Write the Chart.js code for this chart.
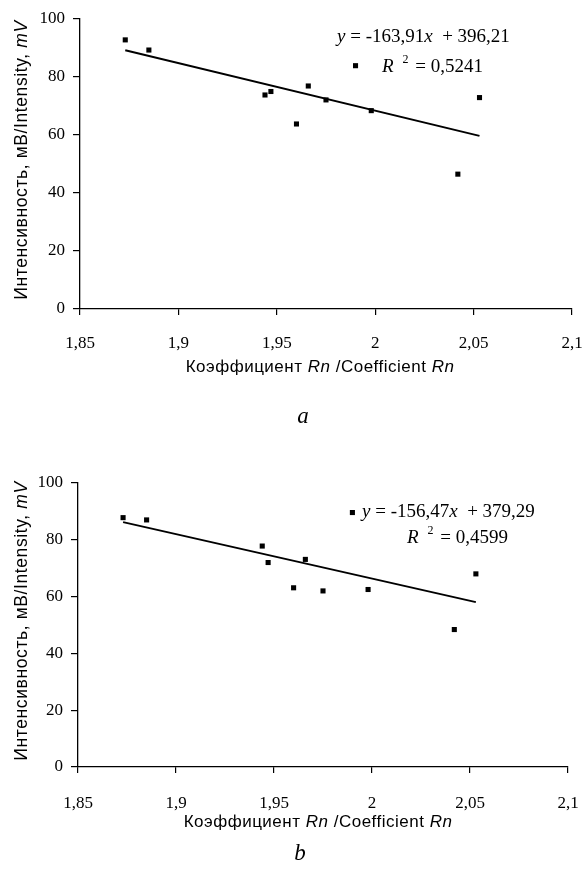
<!DOCTYPE html>
<html>
<head>
<meta charset="utf-8">
<script src="https://cdn.jsdelivr.net/npm/chart.js@4.4.0/dist/chart.umd.min.js"></script>
<style>
  html, body { margin: 0; padding: 0; background: #fff; }
  body { width: 583px; height: 870px; position: relative; overflow: hidden; }
  .panel { position: absolute; left: 0; width: 583px; }
</style>
</head>
<body>
<div class="panel" style="top:0;height:430px"><canvas id="chartA" width="583" height="430"></canvas></div>
<div class="panel" style="top:430px;height:440px"><canvas id="chartB" width="583" height="440"></canvas></div>
<script>
// Coefficient Rn of each sample (shared by both panels)
const rnCoefficient = [1.873, 1.885, 1.944, 1.947, 1.966, 1.960, 1.975, 1.990, 1.998, 2.053, 2.042];
// Measured intensity, mV
const intensityA = [92.8, 89.3, 73.8, 75.0, 76.9, 63.8, 72.1, 83.9, 68.4, 72.9, 46.5];
const intensityB = [87.8, 87.0, 77.8, 72.0, 73.1, 63.1, 62.0, 89.6, 62.5, 68.0, 48.4];
// Linear trend lines y = slope * x + intercept
const trendSlopes = [-163.91, -156.47];
const trendIntercepts = [396.21, 379.29];
const rSquared = ['0,5241', '0,4599'];
// Axis ticks
const xTickValues = [1.85, 1.9, 1.95, 2, 2.05, 2.1];
const yTickValues = [0, 20, 40, 60, 80, 100];
const panelLetters = ['a', 'b'];

const SANS = "'Liberation Sans', Arial, sans-serif";
const SERIF = "'Liberation Serif', 'Times New Roman', serif";

const comma = v => String(v).replace('.', ',');
const fixed2 = v => v.toFixed(2).replace('.', ',');

// Draw a run of text pieces with individual fonts; align: 'left' | 'center'
function drawRich(ctx, parts, x, y, align, spacing) {
  ctx.save();
  ctx.textBaseline = 'middle';
  ctx.fillStyle = '#000';
  if (spacing) ctx.letterSpacing = spacing + 'px';
  let total = 0;
  parts.forEach(p => { ctx.font = p.font; total += ctx.measureText(p.t).width + (p.dx || 0); });
  let cx = align === 'center' ? x - total / 2 : x;
  parts.forEach(p => {
    ctx.font = p.font;
    ctx.textAlign = 'left';
    cx += p.dx || 0;
    ctx.fillText(p.t, cx, y + (p.dy || 0));
    cx += ctx.measureText(p.t).width;
  });
  ctx.restore();
}

function makePanel(canvasId, idx, values, geom) {
  const slope = trendSlopes[idx];
  const intercept = trendIntercepts[idx];
  const xMin = Math.min(...rnCoefficient);
  const xMax = Math.max(...rnCoefficient);
  const trendPoints = [xMin, xMax].map(x => ({ x, y: slope * x + intercept }));

  const annotations = {
    id: 'panelText' + idx,
    afterDraw(chart) {
      const ctx = chart.ctx;
      const area = chart.chartArea;
      // y-axis title, rotated
      ctx.save();
      ctx.translate(geom.yTitleX, (area.top + area.bottom) / 2 + geom.yTitleShift);
      ctx.rotate(-Math.PI / 2);
      drawRich(ctx, [
        { t: 'Интенсивность, мВ/Intensity, ', font: '17.5px ' + SANS },
        { t: 'mV', font: 'italic 17.5px ' + SANS }
      ], 0, 0, 'center', 0.6);
      ctx.restore();
      // x-axis title
      drawRich(ctx, [
        { t: 'Коэффициент ', font: '17px ' + SANS },
        { t: 'Rn', font: 'italic 17px ' + SANS },
        { t: ' /Coefficient ', font: '17px ' + SANS },
        { t: 'Rn', font: 'italic 17px ' + SANS }
      ], geom.xTitleX, geom.xTitleY, 'center', 0.5);
      // regression equation and R²
      const sign = intercept >= 0 ? '+ ' : '- ';
      drawRich(ctx, [
        { t: 'y', font: 'italic 19px ' + SERIF },
        { t: ' = ' + fixed2(slope), font: '19px ' + SERIF },
        { t: 'x', font: 'italic 19px ' + SERIF },
        { t: '  ' + sign + fixed2(Math.abs(intercept)), font: '19px ' + SERIF }
      ], geom.eqX, geom.eqY, 'left');
      drawRich(ctx, [
        { t: 'R', font: 'italic 19px ' + SERIF },
        { t: '2', font: '12px ' + SERIF, dy: -7, dx: 9 },
        { t: ' = ' + rSquared[idx], font: '19px ' + SERIF, dx: 2 }
      ], geom.r2X, geom.r2Y, 'left');
      // panel letter
      drawRich(ctx, [{ t: panelLetters[idx], font: 'italic 23px ' + SERIF }],
        geom.letterX, geom.letterY, 'center');
    }
  };

  return new Chart(document.getElementById(canvasId), {
    type: 'scatter',
    data: {
      datasets: [
        {
          data: rnCoefficient.map((x, i) => ({ x, y: values[i] })),
          pointStyle: 'rect',
          pointRadius: 3.6,
          pointHoverRadius: 3.6,
          backgroundColor: '#000',
          borderColor: '#000',
          borderWidth: 0
        },
        {
          type: 'line',
          data: trendPoints,
          borderColor: '#000',
          borderWidth: 2,
          pointRadius: 0,
          fill: false,
          tension: 0
        }
      ]
    },
    options: {
      responsive: false,
      animation: false,
      devicePixelRatio: 1,
      plugins: { legend: { display: false }, tooltip: { enabled: false } },
      layout: { padding: { left: 0, right: geom.padRight, top: geom.padTop, bottom: 0 } },
      scales: {
        x: {
          type: 'linear',
          min: xTickValues[0],
          max: xTickValues[xTickValues.length - 1],
          afterBuildTicks(scale) { scale.ticks = xTickValues.map(v => ({ value: v })); },
          afterFit(scale) { scale.height = geom.xAxisHeight; scale.paddingLeft = 0; scale.paddingRight = 0; },
          border: { display: true, color: '#000', width: 1.3 },
          grid: { drawOnChartArea: false, drawTicks: true, tickLength: 6, color: '#000', lineWidth: 1.2 },
          ticks: {
            padding: geom.xTickPad,
            color: '#000',
            maxRotation: 0,
            font: { family: SERIF, size: 17 },
            callback: v => comma(v)
          }
        },
        y: {
          type: 'linear',
          min: yTickValues[0],
          max: yTickValues[yTickValues.length - 1],
          afterBuildTicks(scale) { scale.ticks = yTickValues.map(v => ({ value: v })); },
          afterFit(scale) { scale.width = geom.yAxisWidth; scale.paddingTop = 0; scale.paddingBottom = 0; },
          border: { display: true, color: '#000', width: 1.3 },
          grid: { drawOnChartArea: false, drawTicks: true, tickLength: 7, color: '#000', lineWidth: 1.2 },
          ticks: {
            padding: 8,
            color: '#000',
            font: { family: SERIF, size: 17 },
            callback: v => comma(v)
          }
        }
      }
    },
    plugins: [annotations]
  });
}

makePanel('chartA', 0, intensityA, {
  padTop: 19, padRight: 11, yAxisWidth: 80, xAxisHeight: 121, xTickPad: 18,
  yTitleX: 22, yTitleShift: -4, xTitleX: 320, xTitleY: 367,
  eqX: 337, eqY: 37, r2X: 382, r2Y: 67, letterX: 303, letterY: 417
});
makePanel('chartB', 1, intensityB, {
  padTop: 53, padRight: 15, yAxisWidth: 78, xAxisHeight: 103, xTickPad: 20,
  yTitleX: 22, yTitleShift: -4, xTitleX: 318, xTitleY: 392,
  eqX: 362, eqY: 82, r2X: 407, r2Y: 108, letterX: 300, letterY: 424
});
</script>
</body>
</html>
